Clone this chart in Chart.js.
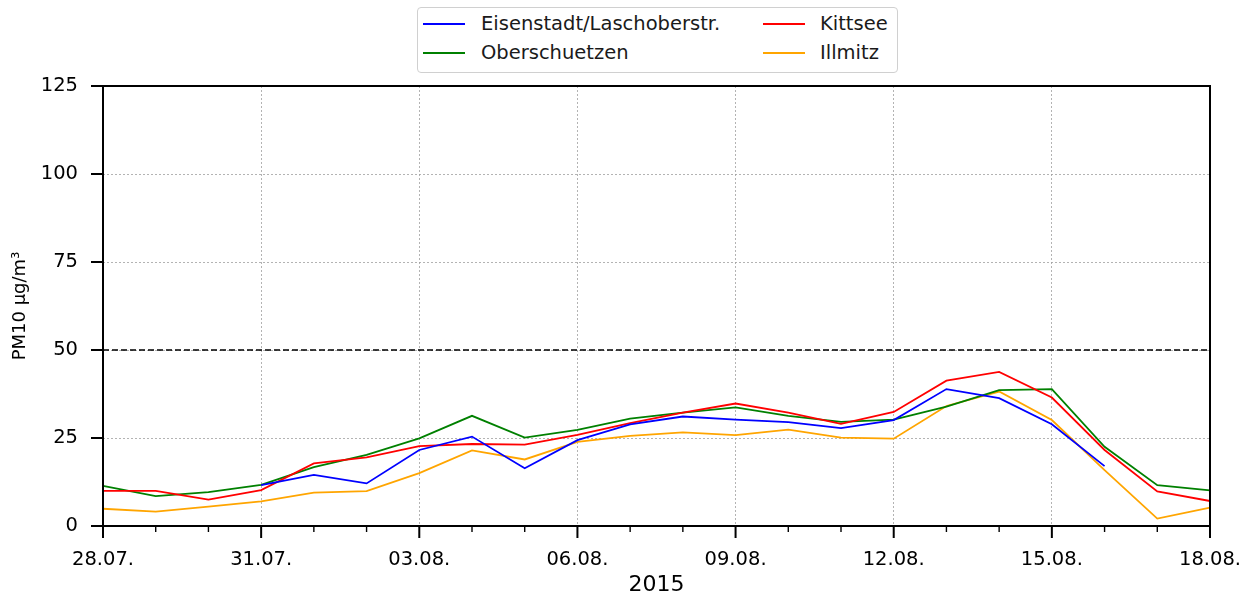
<!DOCTYPE html>
<html>
<head>
<meta charset="utf-8">
<script src="https://cdn.jsdelivr.net/npm/chart.js@4"></script>
<style>
  body { margin: 0; background: #fff; font-family: "DejaVu Sans", sans-serif; }
  #wrap { position: relative; width: 1254px; height: 599px; }
  #legend { position: absolute; left: 417px; top: 7px; width: 479px; height: 64px;
            border: 1px solid #d0d0d0; border-radius: 4px; background: #fff; }
  #legend .ln { position: absolute; width: 42px; height: 2px; }
  #legend .tx { position: absolute; font-size: 19.5px; color: #1a1a1a; line-height: 24px; white-space: nowrap; }
</style>
</head>
<body>
<div id="wrap">
  <canvas id="myChart" width="1254" height="599"></canvas>
  <div id="legend"></div>
</div>
<script>
// PM10 daily means, Burgenland stations
const days = ['28.07.', '29.07.', '30.07.', '31.07.', '01.08.', '02.08.', '03.08.', '04.08.',
  '05.08.', '06.08.', '07.08.', '08.08.', '09.08.', '10.08.', '11.08.', '12.08.',
  '13.08.', '14.08.', '15.08.', '16.08.', '17.08.', '18.08.'];

const eisenstadt = [null, null, null, 11.6, 14.5, 12.1, 21.6, 25.4, 16.4, 24.4, 28.9,
  31.1, 30.2, 29.5, 27.8, 30.1, 38.9, 36.3, 28.9, 17.0, null, null];
const kittsee = [10.0, 10.0, 7.5, 10.2, 17.8, 19.5, 22.7, 23.3, 23.1, 25.9, 29.2,
  32.2, 34.8, 32.2, 29.0, 32.4, 41.3, 43.8, 36.5, 21.6, 9.8, 7.1];
const oberschuetzen = [11.4, 8.5, 9.6, 11.7, 16.7, 20.2, 24.9, 31.3, 25.1, 27.3, 30.5,
  32.2, 33.7, 31.3, 29.6, 30.2, 33.9, 38.6, 38.9, 22.5, 11.6, 10.1];
const illmitz = [4.9, 4.1, 5.5, 7.0, 9.5, 9.9, 15.0, 21.5, 18.9, 23.9, 25.6,
  26.6, 25.8, 27.4, 25.1, 24.8, 34.1, 38.2, 30.1, 15.9, 2.1, 5.2];

const yTicks = [0, 25, 50, 75, 100, 125];
const limit = 50;

// legend, two columns like the original
const legendItems = [
  { label: 'Eisenstadt/Laschoberstr.', color: '#0000ff', col: 0, row: 0 },
  { label: 'Oberschuetzen', color: '#008000', col: 0, row: 1 },
  { label: 'Kittsee', color: '#ff0000', col: 1, row: 0 },
  { label: 'Illmitz', color: '#ffa500', col: 1, row: 1 }
];
let legend = document.getElementById('legend');
legendItems.forEach(function (it) {
  let lx = it.col === 0 ? 5 : 345;
  let tx = it.col === 0 ? 63 : 402;
  let cy = it.row === 0 ? 16 : 45;
  let ln = document.createElement('div');
  ln.className = 'ln';
  ln.style.left = lx + 'px';
  ln.style.top = (cy - 1) + 'px';
  ln.style.background = it.color;
  legend.appendChild(ln);
  let t = document.createElement('div');
  t.className = 'tx';
  t.style.left = tx + 'px';
  t.style.top = (cy - 12) + 'px';
  t.textContent = it.label;
  legend.appendChild(t);
});

const framePlugin = {
  id: 'frame',
  afterDraw(chart) {
    const ctx = chart.ctx;
    const a = chart.chartArea;
    const x = chart.scales.x;
    const y = chart.scales.y;
    ctx.save();
    // limit line
    let ly = y.getPixelForValue(limit);
    ctx.strokeStyle = '#000';
    ctx.lineWidth = 1.6;
    ctx.setLineDash([6, 3]);
    ctx.beginPath();
    ctx.moveTo(a.left, ly);
    ctx.lineTo(a.right, ly);
    ctx.stroke();
    ctx.setLineDash([]);
    // tick marks
    x.ticks.forEach(function (t, i) {
      let px = x.getPixelForTick(i);
      let major = i % 3 === 0;
      ctx.lineWidth = major ? 2 : 1.4;
      ctx.beginPath();
      ctx.moveTo(px, a.bottom);
      ctx.lineTo(px, a.bottom + (major ? 12 : 6));
      ctx.stroke();
    });
    y.ticks.forEach(function (t) {
      let py = y.getPixelForValue(t.value);
      ctx.lineWidth = 2;
      ctx.beginPath();
      ctx.moveTo(a.left - 12, py);
      ctx.lineTo(a.left, py);
      ctx.stroke();
    });
    // frame
    ctx.lineWidth = 2;
    ctx.strokeRect(a.left, a.top, a.right - a.left, a.bottom - a.top);
    ctx.restore();
  }
};

function line(label, data, color) {
  return { label: label, data: data, borderColor: color, backgroundColor: color,
    borderWidth: 1.8, pointRadius: 0, tension: 0, spanGaps: false };
}

let chart = new Chart(document.getElementById('myChart').getContext('2d'), {
  type: 'line',
  data: {
    labels: days,
    datasets: [
      line('Eisenstadt/Laschoberstr.', eisenstadt, '#0000ff'),
      line('Kittsee', kittsee, '#ff0000'),
      line('Oberschuetzen', oberschuetzen, '#008000'),
      line('Illmitz', illmitz, '#ffa500')
    ]
  },
  options: {
    responsive: false,
    animation: false,
    layout: { padding: { top: 86, right: 44, bottom: 0, left: 0 } },
    plugins: { legend: { display: false }, tooltip: { enabled: false } },
    scales: {
      x: {
        type: 'category',
        offset: false,
        grid: {
          color: function (c) { return c.index % 3 === 0 ? '#a0a0a0' : 'transparent'; },
          lineWidth: 0.8,
          drawTicks: true,
          tickLength: 12,
          tickColor: 'transparent'
        },
        border: { display: false, dash: [2, 2] },
        ticks: {
          autoSkip: false,
          maxRotation: 0,
          padding: 10,
          color: '#000',
          font: { family: 'DejaVu Sans', size: 19.5 },
          callback: function (v, i) { return i % 3 === 0 ? days[i] : ''; }
        },
        title: {
          display: true,
          text: '2015',
          color: '#000',
          font: { family: 'DejaVu Sans', size: 22 },
          padding: { top: 0, bottom: 1 }
        },
        afterFit: function (s) { s.height = 73; }
      },
      y: {
        min: 0,
        max: 125,
        afterBuildTicks: function (s) { s.ticks = yTicks.map(function (v) { return { value: v }; }); },
        grid: {
          color: '#a0a0a0',
          lineWidth: 0.8,
          drawTicks: true,
          tickLength: 12,
          tickColor: 'transparent'
        },
        border: { display: false, dash: [2, 2] },
        ticks: {
          padding: 13,
          color: '#000',
          font: { family: 'DejaVu Sans', size: 19.5 }
        },
        title: {
          display: true,
          text: 'PM10 µg/m³',
          color: '#000',
          font: { family: 'DejaVu Sans', size: 18 },
          padding: { top: 10, bottom: 0 }
        },
        afterFit: function (s) { s.width = 103; }
      }
    }
  },
  plugins: [framePlugin]
});
</script>
</body>
</html>
